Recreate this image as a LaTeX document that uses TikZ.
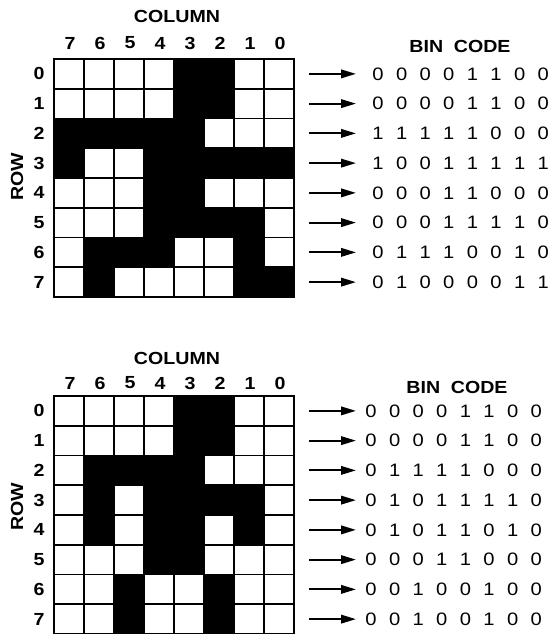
\documentclass[tikz,border=0pt]{standalone}
\usepackage{fontspec}
\setmainfont{Liberation Sans}
\newfontfamily\widefont[FakeStretch=1.12]{Liberation Sans}
\usetikzlibrary{arrows.meta}
\newcommand\drawpanel[9]{%
  % #1 prefix, #2 grid top, #3 col-label y, #4 COLUMN y, #5 BIN x, #6 BIN y, #7 first digit x, #8 ROW y, #9 data
  \foreach \r/\bits in {#9} {
    \pgfmathsetmacro\yc{#2+(\r+0.5)*29.75}
    \foreach \b [count=\c from 0] in \bits {
      \ifnum\b=1 \fill (54+\c*30, #2+\r*29.75) rectangle ++(30,29.75); \fi
      \node[bit] (#1d\r\c) at (#7+\c*23.6, \yc) {\b};
    }
    \node[lbl] (#1r\r) at (39,\yc) {\r};
    \coordinate (#1a\r) at (309,\yc);
    \coordinate (#1b\r) at (356,\yc);
    \draw[arr] (#1a\r) -- (#1b\r);
  }
  \foreach \i in {1,...,7} {
    \draw[gridline] (54+\i*30,#2) -- (54+\i*30,#2+238);
    \draw[gridline] (54,#2+\i*29.75) -- (294,#2+\i*29.75);
  }
  \draw[frame] (54,#2) rectangle (294,#2+238);
  \foreach \c in {0,...,7} {
    \pgfmathtruncatemacro\lab{7-\c}
    \node[lbl] (#1c\c) at (70+\c*30,#3) {\lab};
  }
  \node[head] (#1col) at (177,#4) {COLUMN};
  \node[head, rotate=90] (#1row) at (17,#8) {ROW};
  \node[head] (#1bin) at (#5,#6) {BIN\hspace{0.3em} CODE};
}
\begin{document}
\begin{tikzpicture}[x=1pt,y=-1pt,
  lbl/.style={font=\widefont\bfseries\fontsize{17.5}{17.5}\selectfont, inner sep=0pt},
  head/.style={font=\widefont\bfseries\fontsize{17.5}{17.5}\selectfont, inner sep=0pt},
  bit/.style={font=\widefont\fontsize{18}{18}\selectfont, inner sep=0pt},
  gridline/.style={line width=1.7pt},
  frame/.style={line width=2.5pt},
  arr/.style={line width=2pt, -{Triangle[length=15pt,width=8.5pt]}}]
\useasboundingbox (0,0) rectangle (551,634);
\fill[white] (0,0) rectangle (551,634);
\drawpanel{t}{59}{43}{16}{460}{46}{378}{177}{0/{0,0,0,0,1,1,0,0},1/{0,0,0,0,1,1,0,0},2/{1,1,1,1,1,0,0,0},3/{1,0,0,1,1,1,1,1},4/{0,0,0,1,1,0,0,0},5/{0,0,0,1,1,1,1,0},6/{0,1,1,1,0,0,1,0},7/{0,1,0,0,0,0,1,1}}
\drawpanel{b}{396}{383}{358}{457}{387}{371}{507}{0/{0,0,0,0,1,1,0,0},1/{0,0,0,0,1,1,0,0},2/{0,1,1,1,1,0,0,0},3/{0,1,0,1,1,1,1,0},4/{0,1,0,1,1,0,1,0},5/{0,0,0,1,1,0,0,0},6/{0,0,1,0,0,1,0,0},7/{0,0,1,0,0,1,0,0}}
\end{tikzpicture}
\end{document}
